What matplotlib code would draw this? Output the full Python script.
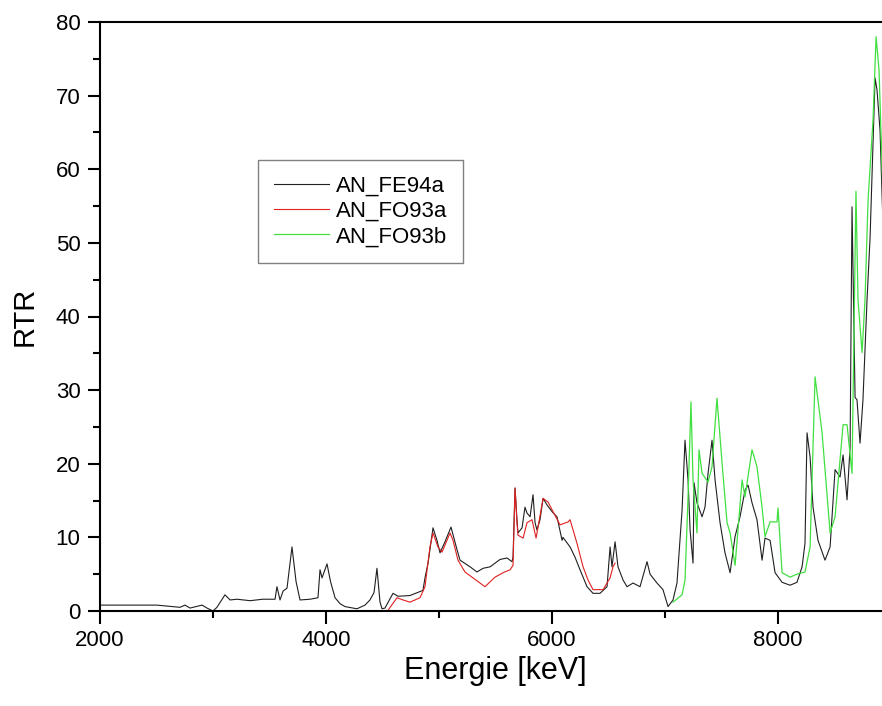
import numpy as np
import matplotlib
matplotlib.use("Agg")
import matplotlib.pyplot as plt
from matplotlib.ticker import MultipleLocator

plt.rcParams['font.family'] = ['Liberation Sans', 'DejaVu Sans']

# AN_FE94a (schwarz)
fe94a_e = [2000, 2504, 2708, 2752, 2797, 2903, 2947, 3000, 3035, 3106, 3151, 3212, 3328, 3440,
           3549, 3566, 3593, 3620, 3655, 3699, 3735, 3770, 3859, 3929, 3947, 3965, 4009, 4040,
           4080, 4124, 4168, 4274, 4345, 4389, 4425, 4451, 4478, 4496, 4522, 4593, 4637, 4743,
           4858, 4876, 4903, 4947, 4982, 5009, 5053, 5106, 5160, 5186, 5275, 5336, 5390, 5452,
           5513, 5540, 5602, 5646, 5655, 5673, 5690, 5699, 5735, 5761, 5779, 5806, 5832, 5850,
           5867, 5894, 5921, 5956, 6000, 6044, 6089, 6097, 6160, 6204, 6248, 6310, 6363, 6425,
           6487, 6514, 6531, 6558, 6584, 6629, 6664, 6717, 6779, 6841, 6868, 6929, 6982, 7027,
           7071, 7106, 7151, 7177, 7204, 7222, 7248, 7257, 7283, 7328, 7354, 7381, 7416, 7443,
           7487, 7531, 7576, 7620, 7664, 7708, 7735, 7770, 7814, 7859, 7885, 7930, 7974, 8036,
           8107, 8168, 8213, 8239, 8257, 8284, 8310, 8354, 8416, 8461, 8505, 8549, 8576, 8611,
           8638, 8655, 8682, 8699, 8726, 8752, 8788, 8815, 8859, 8876, 8903, 8930]
fe94a_rtr = [0.8, 0.8, 0.5, 0.8, 0.4, 0.8, 0.4, 0.0, 0.5, 2.2, 1.5, 1.6, 1.4, 1.6,
             1.6, 3.3, 1.5, 2.7, 3.1, 8.7, 4.0, 1.5, 1.6, 1.8, 5.6, 4.5, 6.4, 4.0,
             1.8, 1.0, 0.6, 0.3, 0.8, 1.5, 2.5, 5.8, 1.2, 0.3, 0.4, 2.4, 2.0, 2.1,
             2.8, 4.5, 6.5, 11.3, 9.6, 7.9, 9.4, 11.4, 8.3, 6.9, 6.0, 5.3, 5.8, 6.0,
             6.7, 7.0, 7.2, 6.7, 7.3, 16.7, 12.4, 10.6, 11.3, 14.1, 13.3, 12.8, 15.8, 12.0,
             11.0, 12.4, 15.3, 14.4, 13.5, 12.8, 9.6, 10.0, 8.7, 7.3, 5.6, 3.3, 2.4, 2.4,
             3.3, 8.7, 6.0, 9.4, 6.0, 4.2, 3.3, 3.8, 3.3, 6.7, 5.0, 3.8, 2.9, 0.6,
             1.5, 3.8, 13.7, 23.2, 17.8, 11.0, 6.5, 17.4, 14.7, 12.8, 14.1, 18.7, 23.2, 17.8,
             12.0, 7.9, 5.2, 10.1, 12.8, 16.4, 17.1, 14.7, 12.4, 6.9, 9.9, 9.6, 5.2, 3.9,
             3.5, 3.9, 6.0, 9.2, 24.2, 20.9, 14.1, 9.6, 6.9, 8.7, 19.2, 18.2, 21.2, 15.1,
             22.3, 54.9, 29.0, 28.7, 22.8, 28.7, 42.3, 50.8, 72.4, 70.8, 65.3, 52.0]

# AN_FO93a (rot)
fo93a_e = [4549, 4628, 4682, 4743, 4832, 4876, 4920, 4947, 4991, 5027, 5098, 5124, 5168, 5230,
           5407, 5496, 5567, 5629, 5655, 5673, 5690, 5699, 5744, 5779, 5823, 5859, 5921, 5965,
           6009, 6071, 6142, 6160, 6221, 6275, 6319, 6363, 6452, 6514, 6540, 6558]
fo93a_rtr = [0.1, 1.8, 1.5, 1.2, 1.8, 3.3, 8.7, 10.6, 8.7, 8.0, 10.6, 9.6, 6.9, 5.3,
             3.3, 4.6, 5.2, 5.6, 6.2, 16.7, 12.0, 10.3, 9.9, 12.0, 12.4, 9.9, 15.3, 14.8,
             13.5, 11.7, 12.1, 12.4, 9.2, 6.0, 4.2, 2.9, 2.9, 4.5, 6.0, 6.5]

# AN_FO93b (gruen)
fo93b_e = [7071, 7151, 7177, 7204, 7230, 7248, 7283, 7301, 7328, 7381, 7416, 7460, 7505, 7549,
           7576, 7620, 7646, 7682, 7708, 7770, 7814, 7859, 7885, 7930, 7991, 8000, 8036, 8107,
           8168, 8239, 8284, 8328, 8390, 8461, 8505, 8576, 8611, 8655, 8690, 8708, 8744, 8770,
           8797, 8841, 8868, 8894, 8930]
fo93b_rtr = [1.2, 2.2, 4.2, 15.5, 28.4, 17.8, 10.6, 21.9, 18.7, 17.5, 19.6, 28.9, 20.1, 12.0,
             10.6, 6.2, 11.0, 17.8, 15.5, 21.9, 19.6, 14.1, 10.1, 12.1, 12.1, 14.0, 5.2, 4.6,
             5.0, 5.3, 8.7, 31.8, 24.2, 10.6, 12.8, 25.3, 25.3, 18.7, 57.0, 42.3, 35.1, 42.3,
             55.8, 66.7, 78.0, 73.5, 56.0]

fig = plt.figure(figsize=(8.82, 7.06), dpi=100)
ax = fig.add_axes([100 / 882, 95 / 706, 791 / 882, 589 / 706])

ax.plot(fe94a_e, fe94a_rtr, color='#202020', lw=0.8, label='AN_FE94a')
ax.plot(fo93a_e, fo93a_rtr, color='#e02020', lw=0.8, label='AN_FO93a')
ax.plot(fo93b_e, fo93b_rtr, color='#40e040', lw=0.9, label='AN_FO93b')

ax.set_xlim(2000, 9000)
ax.set_ylim(0, 80)
ax.xaxis.set_major_locator(MultipleLocator(2000))
ax.xaxis.set_minor_locator(MultipleLocator(1000))
ax.yaxis.set_major_locator(MultipleLocator(10))
ax.yaxis.set_minor_locator(MultipleLocator(5))
ax.tick_params(which='major', direction='out', length=9, width=1.5, labelsize=16, pad=5)
ax.tick_params(which='minor', direction='out', length=5, width=1.5)
for s in ax.spines.values():
    s.set_linewidth(1.5)

ax.set_xlabel('Energie [keV]', fontsize=22, labelpad=3)
ax.set_ylabel('RTR', fontsize=21, labelpad=12)

leg = ax.legend(loc='upper left', bbox_to_anchor=(0.2, 0.766), borderaxespad=0,
                fontsize=16, fancybox=False, framealpha=1, edgecolor='#808080',
                handlelength=2.5, handletextpad=0.3, labelspacing=0.2, borderpad=0.7)
leg.get_frame().set_linewidth(1.0)

fig.savefig('out.png', dpi=100)
